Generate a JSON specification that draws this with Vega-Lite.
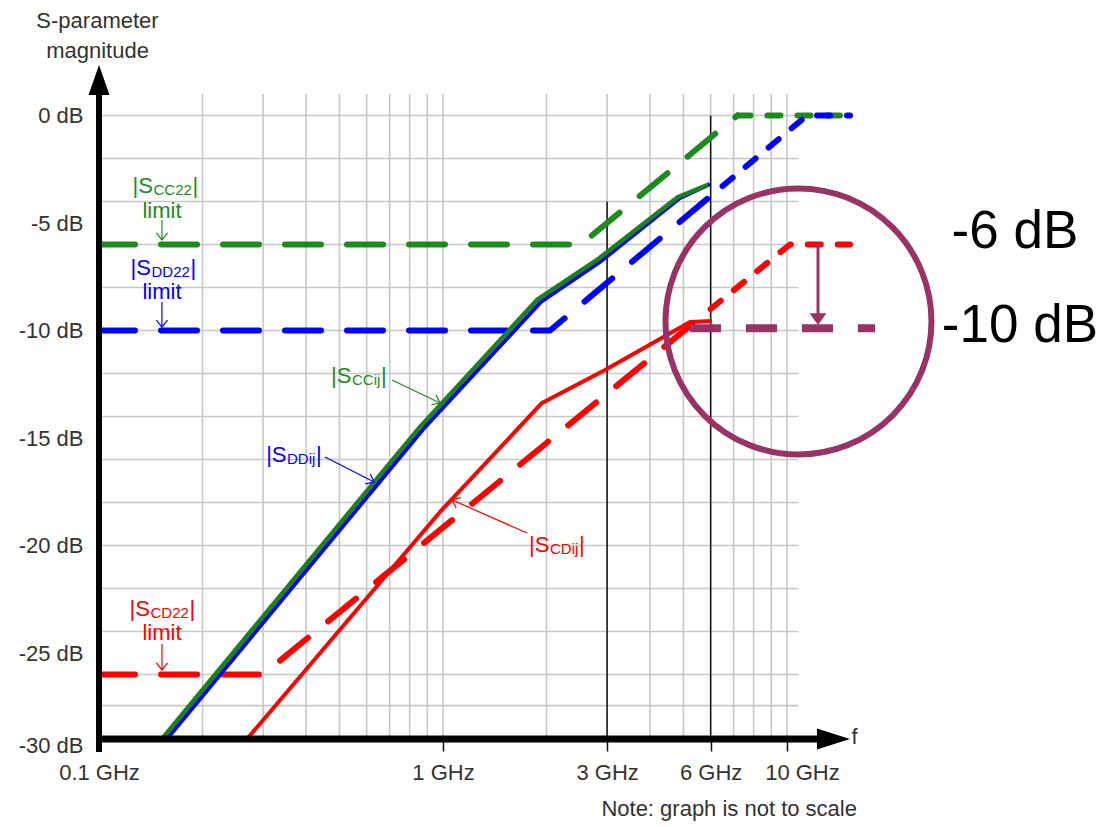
{
  "$schema": "https://vega.github.io/schema/vega-lite/v6.json",
  "width": 751,
  "height": 645,
  "autosize": {"type": "none"},
  "padding": {"left": 99, "top": 94, "right": 251, "bottom": 88},
  "background": "white",
  "config": {"view": {"stroke": null}, "font": "Liberation Sans"},
  "datasets": {
    "curves": [
      {"series": "SCC22 limit", "c": "cc", "seg": "a", "f": 0.1, "db": -6},
      {"series": "SCC22 limit", "c": "cc", "seg": "a", "f": 2.518, "db": -6},
      {"series": "SCC22 limit", "c": "cc", "seg": "a", "f": 7.18, "db": 0},
      {"series": "SCC22 limit", "c": "cc", "seg": "b", "f": 7.18, "db": 0},
      {"series": "SCC22 limit", "c": "cc", "seg": "b", "f": 14.26, "db": 0},
      {"series": "SDD22 limit", "c": "dd", "seg": "a", "f": 0.1, "db": -10},
      {"series": "SDD22 limit", "c": "dd", "seg": "a", "f": 2.047, "db": -10},
      {"series": "SDD22 limit", "c": "dd", "seg": "a", "f": 6.5, "db": -3.28},
      {"series": "SDD22 limit", "c": "dd", "seg": "b", "f": 6.5, "db": -3.28},
      {"series": "SDD22 limit", "c": "dd", "seg": "b", "f": 11.43, "db": 0},
      {"series": "SDD22 limit", "c": "dd", "seg": "b", "f": 15.25, "db": 0},
      {"series": "SCD22 limit", "c": "cd", "seg": "a", "f": 0.1, "db": -26},
      {"series": "SCD22 limit", "c": "cd", "seg": "a", "f": 0.2997, "db": -26},
      {"series": "SCD22 limit", "c": "cd", "seg": "a", "f": 6.0, "db": -9.0},
      {"series": "SCD22 limit", "c": "cd", "seg": "b", "f": 6.0, "db": -9.0},
      {"series": "SCD22 limit", "c": "cd", "seg": "b", "f": 10.2, "db": -6},
      {"series": "SCD22 limit", "c": "cd", "seg": "b", "f": 15.25, "db": -6},
      {"series": "SDDij", "c": "dd", "seg": "solid", "f": 0.1576, "db": -29},
      {"series": "SDDij", "c": "dd", "seg": "solid", "f": 0.6604, "db": -16.96},
      {"series": "SDDij", "c": "dd", "seg": "solid", "f": 0.8867, "db": -14.49},
      {"series": "SDDij", "c": "dd", "seg": "solid", "f": 1.927, "db": -8.67},
      {"series": "SDDij", "c": "dd", "seg": "solid", "f": 2.86, "db": -6.81},
      {"series": "SDDij", "c": "dd", "seg": "solid", "f": 4.887, "db": -3.84},
      {"series": "SDDij", "c": "dd", "seg": "solid", "f": 5.97, "db": -3.19},
      {"series": "SCCij", "c": "cc", "seg": "solid", "f": 0.1524, "db": -29},
      {"series": "SCCij", "c": "cc", "seg": "solid", "f": 0.6386, "db": -16.95},
      {"series": "SCCij", "c": "cc", "seg": "solid", "f": 0.8574, "db": -14.49},
      {"series": "SCCij", "c": "cc", "seg": "solid", "f": 1.876, "db": -8.58},
      {"series": "SCCij", "c": "cc", "seg": "solid", "f": 2.804, "db": -6.72},
      {"series": "SCCij", "c": "cc", "seg": "solid", "f": 4.82, "db": -3.79},
      {"series": "SCCij", "c": "cc", "seg": "solid", "f": 5.894, "db": -3.23},
      {"series": "SCDij", "c": "cd", "seg": "solid", "f": 0.2693, "db": -29},
      {"series": "SCDij", "c": "cd", "seg": "solid", "f": 0.98, "db": -18.44},
      {"series": "SCDij", "c": "cd", "seg": "solid", "f": 1.94, "db": -13.37},
      {"series": "SCDij", "c": "cd", "seg": "solid", "f": 2.958, "db": -11.84},
      {"series": "SCDij", "c": "cd", "seg": "solid", "f": 5.224, "db": -9.6},
      {"series": "SCDij", "c": "cd", "seg": "solid", "f": 6.05, "db": -9.56}
    ],
    "vgrid": [
      {"f": 0.2}, {"f": 0.3}, {"f": 0.4}, {"f": 0.5}, {"f": 0.6}, {"f": 0.7}, {"f": 0.8}, {"f": 0.9},
      {"f": 1}, {"f": 2}, {"f": 3}, {"f": 4}, {"f": 5}, {"f": 6}, {"f": 7}, {"f": 8}, {"f": 9}, {"f": 10}
    ],
    "hgrid": [
      {"db": 0}, {"db": -2}, {"db": -4}, {"db": -6}, {"db": -8}, {"db": -10}, {"db": -12}, {"db": -14},
      {"db": -16}, {"db": -18}, {"db": -20}, {"db": -22}, {"db": -24}, {"db": -26}, {"db": -27.45}
    ],
    "markers": [
      {"f": 3, "db": -4},
      {"f": 6, "db": 0}
    ],
    "labels": [
      {"c": "cc", "sub": "CC22", "kind": "22", "f": 0.14355, "db": -3.6},
      {"c": "dd", "sub": "DD22", "kind": "22", "f": 0.14164, "db": -7.42},
      {"c": "cd", "sub": "CD22", "kind": "22", "f": 0.14069, "db": -23.28},
      {"c": "cc", "sub": "CCij", "kind": "ij", "f": 0.542, "db": -12.44},
      {"c": "dd", "sub": "DDij", "kind": "ij", "f": 0.3509, "db": -16.12},
      {"c": "cd", "sub": "CDij", "kind": "ij", "f": 2.04, "db": -20.3}
    ],
    "limitText": [
      {"c": "cc", "f": 0.1524, "db": -4.77},
      {"c": "dd", "f": 0.1524, "db": -8.53},
      {"c": "cd", "f": 0.1524, "db": -24.4}
    ],
    "vArrows": [
      {"c": "cc", "f": 0.1524, "db": -4.86, "db2": -5.79},
      {"c": "dd", "f": 0.1524, "db": -8.67, "db2": -9.84},
      {"c": "cd", "f": 0.1524, "db": -24.58, "db2": -25.79}
    ],
    "dArrows": [
      {"name": "SCCij", "c": "cc", "f": 0.7107, "db": -12.3, "f2": 0.9801, "db2": -13.37},
      {"name": "SDDij", "c": "dd", "f": 0.454, "db": -15.88, "f2": 0.6302, "db2": -17.05},
      {"name": "SCDij", "c": "cd", "f": 1.755, "db": -19.42, "f2": 1.062, "db2": -17.88}
    ],
    "callout": [
      {"item": "circle", "f": 10.8, "db": -9.58},
      {"item": "level", "f": 5.224, "f2": 18.03, "db": -9.9},
      {"item": "drop", "f": 12.31, "db": -5.98, "db2": -9.47},
      {"item": "-6 dB", "f": 46.0, "db": -6.16},
      {"item": "-10 dB", "f": 47.57, "db": -10.53}
    ],
    "axisParts": [
      {"part": "xline", "f": 0.098, "f2": 13.79, "db": -29},
      {"part": "yline", "f": 0.1, "db": -29.6, "db2": 1.3},
      {"part": "xhead", "f": 13.65, "db": -29},
      {"part": "yhead", "f": 0.1, "db": 1.65},
      {"part": "note", "f": 15.98, "db": -32.58, "text": "Note: graph is not to scale"}
    ]
  },
  "layer": [
    {
      "data": {"name": "vgrid"},
      "mark": {"type": "rule", "color": "#c8c8c8", "strokeWidth": 1.6},
      "encoding": {
        "x": {
          "field": "f",
          "type": "quantitative",
          "scale": {"type": "log", "domain": [0.1, 15.25], "nice": false},
          "axis": {
            "title": "f",
            "titleX": 752,
            "titleY": 4,
            "titleAlign": "left",
            "titleBaseline": "alphabetic",
            "titleFontSize": 22,
            "titleFontWeight": "normal",
            "titleColor": "#333333",
            "titleFont": "Liberation Sans",
            "values": [0.1, 1, 3, 6, 10],
            "labelExpr": "datum.value + ' GHz'",
            "labelFontSize": 22,
            "labelFont": "Liberation Sans",
            "labelColor": "#333333",
            "labelPadding": 11,
            "labelFlush": false,
            "labelOverlap": false,
            "labelBound": false,
            "labelOffset": {"condition": {"test": "datum.value == 10", "value": 15}, "value": 0},
            "domain": false,
            "grid": false,
            "ticks": true,
            "tickSize": 12,
            "tickColor": "#111111",
            "tickWidth": 1.5
          }
        },
        "y": {"datum": -29, "type": "quantitative", "scale": {"domain": [-29, 1], "nice": false, "zero": false}},
        "y2": {"datum": 1}
      }
    },
    {
      "data": {"name": "hgrid"},
      "mark": {"type": "rule", "color": "#c8c8c8", "strokeWidth": 1.6},
      "encoding": {
        "x": {"datum": 0.1, "type": "quantitative", "scale": {"type": "log", "domain": [0.1, 15.25], "nice": false}},
        "x2": {"datum": 10.8},
        "y": {
          "field": "db",
          "type": "quantitative",
          "scale": {"domain": [-29, 1], "nice": false, "zero": false},
          "axis": {
            "title": ["S-parameter", "magnitude"],
            "titleAngle": 0,
            "titleAlign": "center",
            "titleBaseline": "alphabetic",
            "titleX": -2,
            "titleY": -67,
            "titleFontSize": 22,
            "titleFontWeight": "normal",
            "titleColor": "#333333",
            "titleFont": "Liberation Sans",
            "titleLineHeight": 30,
            "values": [0, -5, -10, -15, -20, -25, -29],
            "labelExpr": "datum.value == -29 ? '-30 dB' : datum.value + ' dB'",
            "labelFontSize": 22,
            "labelFont": "Liberation Sans",
            "labelColor": "#333333",
            "labelPadding": 16,
            "labelFlush": false,
            "labelOverlap": false,
            "labelOffset": {"condition": {"test": "datum.value == -29", "value": 6}, "value": 0},
            "domain": false,
            "grid": false,
            "ticks": false
          }
        }
      }
    },
    {
      "data": {"name": "markers"},
      "mark": {"type": "rule", "color": "#111111", "strokeWidth": 1.5},
      "encoding": {
        "x": {"field": "f", "type": "quantitative", "scale": {"type": "log", "domain": [0.1, 15.25], "nice": false}},
        "y": {"field": "db", "type": "quantitative", "scale": {"domain": [-29, 1], "nice": false, "zero": false}},
        "y2": {"datum": -29}
      }
    },
    {
      "data": {"name": "curves"},
      "transform": [{"filter": "datum.seg == 'a'"}],
      "mark": {"type": "line", "strokeWidth": 6, "strokeCap": "round", "strokeJoin": "round", "strokeDash": [36, 26]},
      "encoding": {
        "x": {"field": "f", "type": "quantitative", "scale": {"type": "log", "domain": [0.1, 15.25], "nice": false}},
        "y": {"field": "db", "type": "quantitative", "scale": {"domain": [-29, 1], "nice": false, "zero": false}},
        "color": {"field": "c", "type": "nominal", "scale": {"domain": ["cc", "dd", "cd"], "range": ["#1f8a1f", "#0000ff", "#ff0000"]}, "legend": null},
        "detail": {"field": "series"}
      }
    },
    {
      "data": {"name": "curves"},
      "transform": [{"filter": "datum.seg == 'b'"}],
      "mark": {"type": "line", "strokeWidth": 6, "strokeCap": "round", "strokeJoin": "round", "strokeDash": [13, 17]},
      "encoding": {
        "x": {"field": "f", "type": "quantitative", "scale": {"type": "log", "domain": [0.1, 15.25], "nice": false}},
        "y": {"field": "db", "type": "quantitative", "scale": {"domain": [-29, 1], "nice": false, "zero": false}},
        "color": {"field": "c", "type": "nominal", "scale": {"domain": ["cc", "dd", "cd"], "range": ["#1f8a1f", "#0000ff", "#ff0000"]}, "legend": null},
        "detail": {"field": "series"}
      }
    },
    {
      "data": {"name": "curves"},
      "transform": [{"filter": "datum.series == 'SDDij'"}],
      "mark": {"type": "line", "strokeWidth": 4, "strokeJoin": "round", "color": "#0000ff"},
      "encoding": {
        "x": {"field": "f", "type": "quantitative", "scale": {"type": "log", "domain": [0.1, 15.25], "nice": false}},
        "y": {"field": "db", "type": "quantitative", "scale": {"domain": [-29, 1], "nice": false, "zero": false}}
      }
    },
    {
      "data": {"name": "curves"},
      "transform": [{"filter": "datum.series == 'SCCij'"}],
      "mark": {"type": "line", "strokeWidth": 4.5, "strokeJoin": "round", "color": "#1f7f1f"},
      "encoding": {
        "x": {"field": "f", "type": "quantitative", "scale": {"type": "log", "domain": [0.1, 15.25], "nice": false}},
        "y": {"field": "db", "type": "quantitative", "scale": {"domain": [-29, 1], "nice": false, "zero": false}}
      }
    },
    {
      "data": {"name": "curves"},
      "transform": [{"filter": "datum.series == 'SCDij'"}],
      "mark": {"type": "line", "strokeWidth": 4, "strokeJoin": "round", "color": "#ff0000"},
      "encoding": {
        "x": {"field": "f", "type": "quantitative", "scale": {"type": "log", "domain": [0.1, 15.25], "nice": false}},
        "y": {"field": "db", "type": "quantitative", "scale": {"domain": [-29, 1], "nice": false, "zero": false}}
      }
    },
    {
      "data": {"name": "axisParts"},
      "transform": [{"filter": "datum.part == 'xline'"}],
      "mark": {"type": "rule", "color": "#000000", "strokeWidth": 7},
      "encoding": {
        "x": {"field": "f", "type": "quantitative", "scale": {"type": "log", "domain": [0.1, 15.25], "nice": false}},
        "x2": {"field": "f2"},
        "y": {"field": "db", "type": "quantitative", "scale": {"domain": [-29, 1], "nice": false, "zero": false}}
      }
    },
    {
      "data": {"name": "axisParts"},
      "transform": [{"filter": "datum.part == 'yline'"}],
      "mark": {"type": "rule", "color": "#000000", "strokeWidth": 6},
      "encoding": {
        "x": {"field": "f", "type": "quantitative", "scale": {"type": "log", "domain": [0.1, 15.25], "nice": false}},
        "y": {"field": "db", "type": "quantitative", "scale": {"domain": [-29, 1], "nice": false, "zero": false}},
        "y2": {"field": "db2"}
      }
    },
    {
      "data": {"name": "axisParts"},
      "transform": [{"filter": "datum.part == 'xhead'"}],
      "mark": {"type": "point", "shape": "M-1,-0.64L1,0L-1,0.64Z", "filled": true, "color": "#000000", "size": 1089, "opacity": 1},
      "encoding": {
        "x": {"field": "f", "type": "quantitative", "scale": {"type": "log", "domain": [0.1, 15.25], "nice": false}},
        "y": {"field": "db", "type": "quantitative", "scale": {"domain": [-29, 1], "nice": false, "zero": false}}
      }
    },
    {
      "data": {"name": "axisParts"},
      "transform": [{"filter": "datum.part == 'yhead'"}],
      "mark": {"type": "point", "shape": "M-0.7,1L0,-1L0.7,1Z", "filled": true, "color": "#000000", "size": 900, "opacity": 1},
      "encoding": {
        "x": {"field": "f", "type": "quantitative", "scale": {"type": "log", "domain": [0.1, 15.25], "nice": false}},
        "y": {"field": "db", "type": "quantitative", "scale": {"domain": [-29, 1], "nice": false, "zero": false}}
      }
    },
    {
      "data": {"name": "labels"},
      "mark": {"type": "text", "align": "right", "baseline": "alphabetic", "fontSize": 22, "font": "Liberation Sans"},
      "encoding": {
        "x": {"field": "f", "type": "quantitative", "scale": {"type": "log", "domain": [0.1, 15.25], "nice": false}},
        "y": {"field": "db", "type": "quantitative", "scale": {"domain": [-29, 1], "nice": false, "zero": false}},
        "text": {"value": "|S"},
        "color": {"field": "c", "type": "nominal", "scale": {"domain": ["cc", "dd", "cd"], "range": ["#1f8a1f", "#0000ff", "#ff0000"]}, "legend": null}
      }
    },
    {
      "data": {"name": "labels"},
      "mark": {"type": "text", "align": "left", "baseline": "alphabetic", "fontSize": 15, "dx": 0.5, "dy": 2, "font": "Liberation Sans"},
      "encoding": {
        "x": {"field": "f", "type": "quantitative", "scale": {"type": "log", "domain": [0.1, 15.25], "nice": false}},
        "y": {"field": "db", "type": "quantitative", "scale": {"domain": [-29, 1], "nice": false, "zero": false}},
        "text": {"field": "sub"},
        "color": {"field": "c", "type": "nominal", "scale": {"domain": ["cc", "dd", "cd"], "range": ["#1f8a1f", "#0000ff", "#ff0000"]}, "legend": null}
      }
    },
    {
      "data": {"name": "labels"},
      "transform": [{"filter": "datum.kind == '22'"}],
      "mark": {"type": "text", "align": "left", "baseline": "alphabetic", "fontSize": 22, "dx": 39.5, "font": "Liberation Sans"},
      "encoding": {
        "x": {"field": "f", "type": "quantitative", "scale": {"type": "log", "domain": [0.1, 15.25], "nice": false}},
        "y": {"field": "db", "type": "quantitative", "scale": {"domain": [-29, 1], "nice": false, "zero": false}},
        "text": {"value": "|"},
        "color": {"field": "c", "type": "nominal", "scale": {"domain": ["cc", "dd", "cd"], "range": ["#1f8a1f", "#0000ff", "#ff0000"]}, "legend": null}
      }
    },
    {
      "data": {"name": "labels"},
      "transform": [{"filter": "datum.kind == 'ij'"}],
      "mark": {"type": "text", "align": "left", "baseline": "alphabetic", "fontSize": 22, "dx": 29.5, "font": "Liberation Sans"},
      "encoding": {
        "x": {"field": "f", "type": "quantitative", "scale": {"type": "log", "domain": [0.1, 15.25], "nice": false}},
        "y": {"field": "db", "type": "quantitative", "scale": {"domain": [-29, 1], "nice": false, "zero": false}},
        "text": {"value": "|"},
        "color": {"field": "c", "type": "nominal", "scale": {"domain": ["cc", "dd", "cd"], "range": ["#1f8a1f", "#0000ff", "#ff0000"]}, "legend": null}
      }
    },
    {
      "data": {"name": "limitText"},
      "mark": {"type": "text", "align": "center", "baseline": "alphabetic", "fontSize": 22, "font": "Liberation Sans"},
      "encoding": {
        "x": {"field": "f", "type": "quantitative", "scale": {"type": "log", "domain": [0.1, 15.25], "nice": false}},
        "y": {"field": "db", "type": "quantitative", "scale": {"domain": [-29, 1], "nice": false, "zero": false}},
        "text": {"value": "limit"},
        "color": {"field": "c", "type": "nominal", "scale": {"domain": ["cc", "dd", "cd"], "range": ["#1f8a1f", "#0000ff", "#ff0000"]}, "legend": null}
      }
    },
    {
      "data": {"name": "vArrows"},
      "mark": {"type": "rule", "strokeWidth": 1.2},
      "encoding": {
        "x": {"field": "f", "type": "quantitative", "scale": {"type": "log", "domain": [0.1, 15.25], "nice": false}},
        "y": {"field": "db", "type": "quantitative", "scale": {"domain": [-29, 1], "nice": false, "zero": false}},
        "y2": {"field": "db2"},
        "color": {"field": "c", "type": "nominal", "scale": {"domain": ["cc", "dd", "cd"], "range": ["#1f8a1f", "#0000ff", "#ff0000"]}, "legend": null}
      }
    },
    {
      "data": {"name": "vArrows"},
      "mark": {"type": "point", "shape": "M-1,-0.8L0,0L-1,0.8", "filled": false, "strokeWidth": 1.2, "size": 196, "angle": 90, "opacity": 1},
      "encoding": {
        "x": {"field": "f", "type": "quantitative", "scale": {"type": "log", "domain": [0.1, 15.25], "nice": false}},
        "y": {"field": "db2", "type": "quantitative", "scale": {"domain": [-29, 1], "nice": false, "zero": false}},
        "color": {"field": "c", "type": "nominal", "scale": {"domain": ["cc", "dd", "cd"], "range": ["#1f8a1f", "#0000ff", "#ff0000"]}, "legend": null}
      }
    },
    {
      "data": {"name": "dArrows"},
      "mark": {"type": "rule", "strokeWidth": 1.2},
      "encoding": {
        "x": {"field": "f", "type": "quantitative", "scale": {"type": "log", "domain": [0.1, 15.25], "nice": false}},
        "y": {"field": "db", "type": "quantitative", "scale": {"domain": [-29, 1], "nice": false, "zero": false}},
        "x2": {"field": "f2"},
        "y2": {"field": "db2"},
        "color": {"field": "c", "type": "nominal", "scale": {"domain": ["cc", "dd", "cd"], "range": ["#1f8a1f", "#0000ff", "#ff0000"]}, "legend": null}
      }
    },
    {
      "data": {"name": "dArrows"},
      "transform": [{"filter": "datum.name == 'SCCij'"}],
      "mark": {"type": "point", "shape": "M-1,-0.8L0,0L-1,0.8", "filled": false, "strokeWidth": 1.2, "size": 196, "angle": 25.6, "opacity": 1, "color": "#1f8a1f"},
      "encoding": {
        "x": {"field": "f2", "type": "quantitative", "scale": {"type": "log", "domain": [0.1, 15.25], "nice": false}},
        "y": {"field": "db2", "type": "quantitative", "scale": {"domain": [-29, 1], "nice": false, "zero": false}}
      }
    },
    {
      "data": {"name": "dArrows"},
      "transform": [{"filter": "datum.name == 'SDDij'"}],
      "mark": {"type": "point", "shape": "M-1,-0.8L0,0L-1,0.8", "filled": false, "strokeWidth": 1.2, "size": 196, "angle": 27, "opacity": 1, "color": "#0000ff"},
      "encoding": {
        "x": {"field": "f2", "type": "quantitative", "scale": {"type": "log", "domain": [0.1, 15.25], "nice": false}},
        "y": {"field": "db2", "type": "quantitative", "scale": {"domain": [-29, 1], "nice": false, "zero": false}}
      }
    },
    {
      "data": {"name": "dArrows"},
      "transform": [{"filter": "datum.name == 'SCDij'"}],
      "mark": {"type": "point", "shape": "M-1,-0.8L0,0L-1,0.8", "filled": false, "strokeWidth": 1.2, "size": 196, "angle": 203.7, "opacity": 1, "color": "#ff0000"},
      "encoding": {
        "x": {"field": "f2", "type": "quantitative", "scale": {"type": "log", "domain": [0.1, 15.25], "nice": false}},
        "y": {"field": "db2", "type": "quantitative", "scale": {"domain": [-29, 1], "nice": false, "zero": false}}
      }
    },
    {
      "data": {"name": "callout"},
      "transform": [{"filter": "datum.item == 'level'"}],
      "mark": {"type": "rule", "color": "#993366", "strokeWidth": 8, "strokeDash": [31, 25], "strokeCap": "butt"},
      "encoding": {
        "x": {"field": "f", "type": "quantitative", "scale": {"type": "log", "domain": [0.1, 15.25], "nice": false}},
        "x2": {"field": "f2"},
        "y": {"field": "db", "type": "quantitative", "scale": {"domain": [-29, 1], "nice": false, "zero": false}}
      }
    },
    {
      "data": {"name": "callout"},
      "transform": [{"filter": "datum.item == 'drop'"}],
      "mark": {"type": "rule", "color": "#993366", "strokeWidth": 3},
      "encoding": {
        "x": {"field": "f", "type": "quantitative", "scale": {"type": "log", "domain": [0.1, 15.25], "nice": false}},
        "y": {"field": "db", "type": "quantitative", "scale": {"domain": [-29, 1], "nice": false, "zero": false}},
        "y2": {"field": "db2"}
      }
    },
    {
      "data": {"name": "callout"},
      "transform": [{"filter": "datum.item == 'drop'"}],
      "mark": {"type": "point", "shape": "M-1,-0.7L1,-0.7L0,0.7Z", "filled": true, "color": "#993366", "size": 289, "opacity": 1},
      "encoding": {
        "x": {"field": "f", "type": "quantitative", "scale": {"type": "log", "domain": [0.1, 15.25], "nice": false}},
        "y": {"field": "db2", "type": "quantitative", "scale": {"domain": [-29, 1], "nice": false, "zero": false}}
      }
    },
    {
      "data": {"name": "callout"},
      "transform": [{"filter": "datum.item == 'circle'"}],
      "mark": {"type": "point", "shape": "circle", "filled": false, "color": "#993366", "strokeWidth": 6, "size": 70756, "opacity": 1},
      "encoding": {
        "x": {"field": "f", "type": "quantitative", "scale": {"type": "log", "domain": [0.1, 15.25], "nice": false}},
        "y": {"field": "db", "type": "quantitative", "scale": {"domain": [-29, 1], "nice": false, "zero": false}}
      }
    },
    {
      "data": {"name": "callout"},
      "transform": [{"filter": "datum.item == '-6 dB' || datum.item == '-10 dB'"}],
      "mark": {"type": "text", "align": "center", "baseline": "alphabetic", "fontSize": 53, "color": "#000000", "font": "Liberation Sans"},
      "encoding": {
        "x": {"field": "f", "type": "quantitative", "scale": {"type": "log", "domain": [0.1, 15.25], "nice": false}},
        "y": {"field": "db", "type": "quantitative", "scale": {"domain": [-29, 1], "nice": false, "zero": false}},
        "text": {"field": "item"}
      }
    },
    {
      "data": {"name": "axisParts"},
      "transform": [{"filter": "datum.part == 'note'"}],
      "mark": {"type": "text", "align": "right", "baseline": "alphabetic", "fontSize": 22, "color": "#333333", "font": "Liberation Sans"},
      "encoding": {
        "x": {"field": "f", "type": "quantitative", "scale": {"type": "log", "domain": [0.1, 15.25], "nice": false}},
        "y": {"field": "db", "type": "quantitative", "scale": {"domain": [-29, 1], "nice": false, "zero": false}},
        "text": {"field": "text"}
      }
    }
  ]
}
